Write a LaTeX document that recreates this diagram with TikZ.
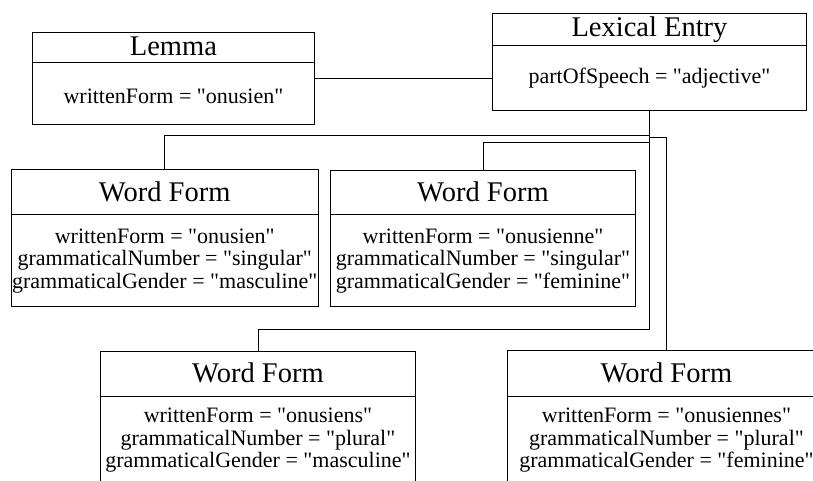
\documentclass[tikz,border=0pt]{standalone}
\usepackage{fontspec}
\setmainfont{Liberation Serif}[Ligatures=TeXOff]
\usetikzlibrary{calc}
\begin{document}
\begin{tikzpicture}[x=1pt,y=-1pt,
  frame/.style={draw=black, line width=0.9pt, inner sep=0pt, anchor=north west},
  link/.style={draw=black, line width=0.9pt},
  divider/.style={draw=black, line width=0.9pt},
  head/.style={font=\fontsize{28.5}{30}\selectfont, inner sep=0pt, anchor=base},
  attrs/.style={font=\fontsize{22}{22.5}\selectfont, align=center, inner sep=0pt, anchor=base}]
\useasboundingbox (0,0) rectangle (813,480);
\clip (0,0) rectangle (813,480);

% class frames
\node[frame, minimum width=282pt, minimum height=92pt]    (lemma) at (32,32)    {};
\node[frame, minimum width=314pt, minimum height=97pt]    (lex)   at (492,13)   {};
\node[frame, minimum width=307.5pt, minimum height=137pt] (wf1)   at (10.5,169) {};
\node[frame, minimum width=305pt, minimum height=136pt]   (wf2)   at (330,170)  {};
\node[frame, minimum width=315pt, minimum height=137pt]   (wf3)   at (100,351)  {};
\node[frame, minimum width=318pt, minimum height=137pt]   (wf4)   at (507,350)  {};

% title compartments
\draw[divider] (lemma.west |- 0,62)  -- (lemma.east |- 0,62);
\draw[divider] (lex.west |- 0,45)    -- (lex.east |- 0,45);
\draw[divider] (wf1.west |- 0,214)   -- (wf1.east |- 0,214);
\draw[divider] (wf2.west |- 0,214)   -- (wf2.east |- 0,214);
\draw[divider] (wf3.west |- 0,396)   -- (wf3.east |- 0,396);
\draw[divider] (wf4.west |- 0,396)   -- (wf4.east |- 0,396);

% titles
\node[head] (lemmaTitle) at (lemma.north |- 0,55)  {Lemma};
\node[head] (lexTitle)   at (lex.north |- 0,36)    {Lexical Entry};
\node[head] (wf1Title)   at (wf1.north |- 0,201.5) {Word Form};
\node[head] (wf2Title)   at (wf2.north |- 0,201.5) {Word Form};
\node[head] (wf3Title)   at (wf3.north |- 0,382.5) {Word Form};
\node[head] (wf4Title)   at (wf4.north |- 0,382.5) {Word Form};

% attributes (multi-line blocks are placed by the baseline of their last line)
\node[attrs] (lemmaAttr) at (lemma.north |- 0,103) {writtenForm = "onusien"};
\node[attrs] (lexAttr)   at (lex.north |- 0,83)    {partOfSpeech = "adjective"};
\node[attrs] (wf1Attr) at (wf1.north |- 0,288)
  {writtenForm = "onusien"\\grammaticalNumber = "singular"\\grammaticalGender = "masculine"};
\node[attrs] (wf2Attr) at (wf2.north |- 0,288)
  {writtenForm = "onusienne"\\grammaticalNumber = "singular"\\grammaticalGender = "feminine"};
\node[attrs] (wf3Attr) at (wf3.north |- 0,467.5)
  {writtenForm = "onusiens"\\grammaticalNumber = "plural"\\grammaticalGender = "masculine"};
\node[attrs] (wf4Attr) at (wf4.north |- 0,467.5)
  {writtenForm = "onusiennes"\\grammaticalNumber = "plural"\\grammaticalGender = "feminine"};

% associations
\draw[link] (lemma.east) -- (lemma.east -| lex.west);
\draw[link] (lex.south) -- ++(0,25)  -| (wf1.north);
\draw[link] (lex.south) -- ++(0,32)  -| (wf2.north);
\draw[link] (lex.south) -- ++(0,219) -| (wf3.north);
\draw[link] (lex.south) -- ++(0,27)  -| (wf4.north);
\end{tikzpicture}
\end{document}
